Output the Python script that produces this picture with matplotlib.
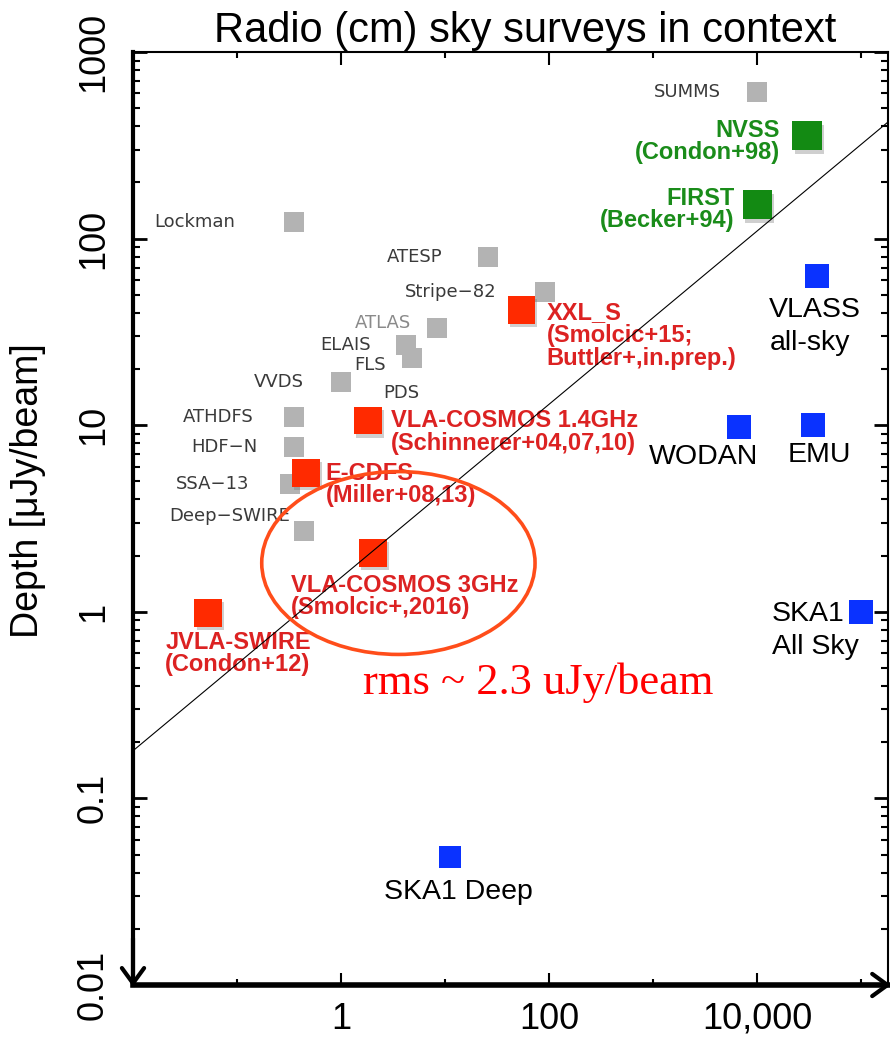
import matplotlib

matplotlib.use("Agg")

import matplotlib.pyplot as plt
import matplotlib.patheffects as pe
from matplotlib.patches import Ellipse
from matplotlib.ticker import FixedLocator, LogLocator, NullFormatter

# survey area [deg^2] vs depth [uJy/beam]
gray_names = ["SUMMS", "Lockman", "ATESP", "Stripe−82", "ATLAS", "ELAIS", "FLS",
              "VVDS", "PDS", "ATHDFS", "HDF−N", "SSA−13", "Deep−SWIRE"]
gray_area = [1.0e4, 0.35, 26, 92, 8.4, 4.2, 4.8, 1.0, 1.8, 0.35, 0.35, 0.32, 0.44]
gray_depth = [610, 123, 80, 52, 33, 27, 23, 17, 10.5, 11.1, 7.6, 4.85, 2.7]

red_names = ["XXL_S\n(Smolcic+15;\nButtler+,in.prep.)",
             "VLA-COSMOS 1.4GHz\n(Schinnerer+04,07,10)",
             "E-CDFS\n(Miller+08,13)",
             "VLA-COSMOS 3GHz\n(Smolcic+,2016)",
             "JVLA-SWIRE\n(Condon+12)"]
red_area = [54, 1.82, 0.46, 2.03, 0.053]
red_depth = [41.5, 10.6, 5.56, 2.07, 0.99]

green_names = ["NVSS\n(Condon+98)", "FIRST\n(Becker+94)"]
green_area = [3.0e4, 1.0e4]
green_depth = [356, 152]

blue_names = ["VLASS\nall-sky", "WODAN", "EMU", "SKA1\nAll Sky", "SKA1 Deep"]
blue_area = [3.7e4, 6.6e3, 3.4e4, 9.8e4, 11.2]
blue_depth = [63, 9.8, 10.05, 1.0, 0.0486]

line_area = [0.01, 1.86e5]
line_depth = [0.18, 428]

x_ticks = [1, 100, 1e4]
x_ticklabels = ["1", "100", "10,000"]
x_minor = [0.1, 10, 1e3, 1e5]
y_ticks = [0.01, 0.1, 1, 10, 100, 1000]
y_ticklabels = ["0.01", "0.1", "1", "10", "100", "1000"]

# label offsets (points) and alignment
gray_off = [(-26, 0, "right"), (-42, 0, "right"), (-33, 0, "right"), (-35, 0, "right"),
            (-19, 4, "right"), (-25, 0, "right"), (-19, -5, "right"), (-27, 0, "right"),
            (11, 20, "left"), (-29, 0, "right"), (-26, 0, "right"), (-29, 0, "right"),
            (-10, 11, "right")]
red_off = [(18, 6), (16.5, 8), (14, 8), (-59, -15), (-31, -13)]
green_off = [(-19.5, 12), (-16.5, 13)]
blue_off = [(-34, -15, "left", "top"), (-25, -21.6, "center", "center"),
            (5, -22, "center", "center"), (-64, 8, "left", "top"),
            (6, -25, "center", "center")]
blue_sizes = [17, 17, 17, 17, 16]

fig = plt.figure(figsize=(8.9, 10.4), dpi=100)
ax = fig.add_axes([133 / 890, 55 / 1040, 755 / 890, 933 / 1040])
ax.set_xscale("log")
ax.set_yscale("log")
ax.set_xlim(0.01, 1.8e5)
ax.set_ylim(0.01, 1000)

shadow = [pe.SimplePatchShadow(offset=(1.5, -2.5), shadow_rgbFace="#777777", alpha=0.35), pe.Normal()]

for n, a, d, (dx, dy, ha) in zip(gray_names, gray_area, gray_depth, gray_off):
    ax.plot(a, d, "s", ms=15, mew=0, color="#b3b3b3", zorder=3)
    col = "#8a8a8a" if n == "ATLAS" else "#3a3a3a"
    ax.annotate(n, (a, d), xytext=(dx, dy), textcoords="offset points", ha=ha,
                va="center", fontsize=13, color=col, family="DejaVu Sans", zorder=4)

for n, a, d, (dx, dy) in zip(red_names, red_area, red_depth, red_off):
    ax.plot(a, d, "s", ms=20, mew=0, color="#ff2a00", zorder=3, path_effects=shadow)
    ax.annotate(n, (a, d), xytext=(dx, dy), textcoords="offset points", ha="left",
                va="top", fontsize=17, fontweight="bold", color="#dc2222",
                family="Liberation Sans", linespacing=0.98, zorder=4)

for n, a, d, (dx, dy) in zip(green_names, green_area, green_depth, green_off):
    ax.plot(a, d, "s", ms=21, mew=0, color="#138a13", zorder=3, path_effects=shadow)
    ax.annotate(n, (a, d), xytext=(dx, dy), textcoords="offset points", ha="right",
                va="top", multialignment="right", fontsize=17, fontweight="bold",
                color="#1a8c1a", family="Liberation Sans", linespacing=0.95, zorder=4)

for n, a, d, (dx, dy, ha, va), s in zip(blue_names, blue_area, blue_depth, blue_off, blue_sizes):
    ax.plot(a, d, "s", ms=s, mew=0, color="#0a32ff", zorder=3)
    ax.annotate(n, (a, d), xytext=(dx, dy), textcoords="offset points", ha=ha,
                va=va, fontsize=20.5, color="black", family="Liberation Sans",
                linespacing=1.35, zorder=4)

ax.plot(line_area, line_depth, color="black", lw=0.8, zorder=5)

ax.add_patch(Ellipse((0.3515, 0.4523), 0.362, 0.196, transform=ax.transAxes,
                     fill=False, ec="#ff4d1a", lw=2.6, zorder=6))
ax.text(0.537, 0.3237, "rms ~ 2.3 uJy/beam", transform=ax.transAxes, ha="center",
        va="center", fontsize=32, color="#ff0000", family="Liberation Serif")

# axes styling
ax.spines["left"].set_linewidth(3)
ax.spines["bottom"].set_linewidth(4)
ax.spines["top"].set_linewidth(1.5)
ax.spines["right"].set_linewidth(1.5)

ax.xaxis.set_major_locator(FixedLocator(x_ticks))
ax.xaxis.set_minor_locator(FixedLocator(x_minor))
ax.set_xticks(x_ticks, x_ticklabels, fontsize=26, family="Liberation Sans")
ax.xaxis.set_minor_formatter(NullFormatter())
ax.set_yticks(y_ticks, y_ticklabels, fontsize=26, family="Liberation Sans",
              rotation=90, va="center")
ax.yaxis.set_minor_locator(LogLocator(base=10, subs=range(2, 10)))
ax.yaxis.set_minor_formatter(NullFormatter())

ax.tick_params(axis="x", which="major", direction="in", length=9, width=1.5,
               top=True, pad=12)
ax.tick_params(axis="x", which="minor", direction="in", length=4, width=1.5, top=True)
ax.tick_params(axis="y", which="major", direction="in", length=10, width=2,
               right=True, pad=16)
ax.tick_params(axis="y", which="minor", direction="in", length=5, width=1.5, right=True)

ax.set_ylabel("Depth [μJy/beam]", fontsize=27, family="Liberation Sans")
ax.yaxis.set_label_coords(-0.139, 0.53)
ax.yaxis.label.set_va("center")

ax.set_title("Radio (cm) sky surveys in context", fontsize=30,
             family="Liberation Sans", x=0.52, pad=7)

# arrow heads on the axes
arrow = dict(arrowstyle="->,head_length=0.55,head_width=0.4", lw=3, color="black",
             mutation_scale=20, shrinkA=0, shrinkB=0)
ax.annotate("", xy=(0, -0.002), xytext=(0, 0.05), xycoords="axes fraction",
            arrowprops=arrow, annotation_clip=False)
ax.annotate("", xy=(1.004, 0), xytext=(0.95, 0), xycoords="axes fraction",
            arrowprops=arrow, annotation_clip=False)

fig.savefig("out.png", dpi=100)
